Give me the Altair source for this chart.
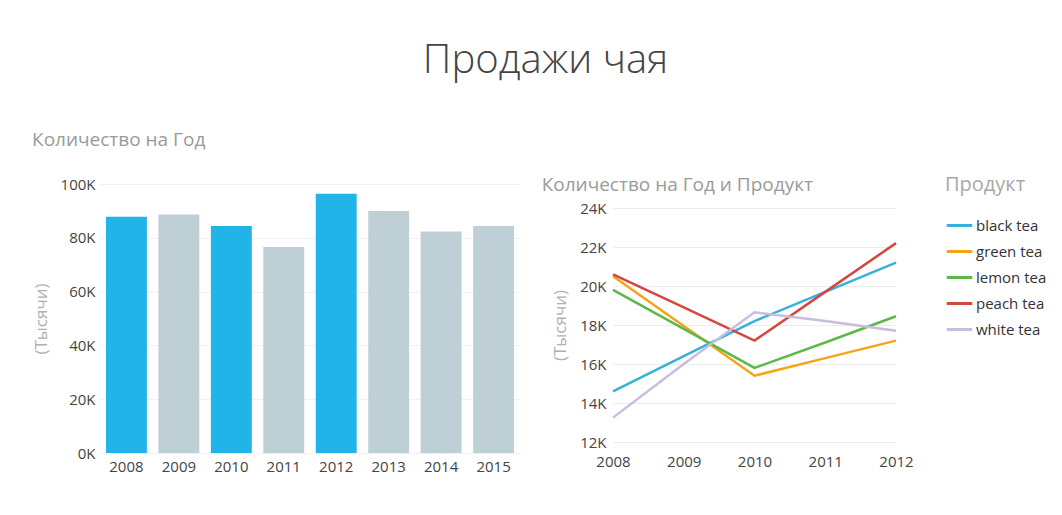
import altair as alt
import pandas as pd

# ---- data ----
years = ["2008", "2009", "2010", "2011", "2012", "2013", "2014", "2015"]
totals = [87800, 88700, 84400, 76600, 96400, 90000, 82300, 84400]
highlight = [True, False, True, False, True, False, False, False]

line_years = ["2008", "2009", "2010", "2011", "2012"]
products = ["black tea", "green tea", "lemon tea", "peach tea", "white tea"]
black_tea = [14600, 16400, 18200, 19700, 21200]
green_tea = [20500, 17950, 15400, 16300, 17200]
lemon_tea = [19800, 17800, 15800, 17100, 18450]
peach_tea = [20600, 18900, 17200, 19700, 22200]
white_tea = [13250, 16000, 18650, 18200, 17700]
product_colors = ["#35b1dc", "#f6a318", "#5cb948", "#d4473e", "#c9bcdf"]

BLUE = "#20b4e8"
GREY = "#bed0d5"
FONT = "Open Sans"

bar_df = pd.DataFrame({"year": years, "total": totals, "hl": highlight})
series = [black_tea, green_tea, lemon_tea, peach_tea, white_tea]
rows = []
for p, vals in zip(products, series):
    for y, v in zip(line_years, vals):
        rows.append({"year": y, "product": p, "value": v})
line_df = pd.DataFrame(rows)

k_expr = "format(datum.value / 1000, 'd') + 'K'"

bar = alt.Chart(bar_df).mark_bar().encode(
    x=alt.X("year:N", sort=years,
            scale=alt.Scale(paddingInner=0.22, paddingOuter=0.114),
            axis=alt.Axis(title=None, labelAngle=0, ticks=False, domain=False,
                          labelPadding=6, grid=False)),
    y=alt.Y("total:Q", scale=alt.Scale(domain=[0, 100000], nice=False),
            axis=alt.Axis(title="(Тысячи)", values=[0, 20000, 40000, 60000, 80000, 100000],
                          labelExpr=k_expr, ticks=False, domain=False, grid=True,
                          gridColor="#f1f1f1", labelPadding=5, titlePadding=10)),
    color=alt.condition("datum.hl", alt.value(BLUE), alt.value(GREY)),
).properties(
    width=420, height=269,
    title=alt.TitleParams("Количество на Год", anchor="start", frame="bounds",
                          fontSize=19, color="#9a9a9a", fontWeight="normal", offset=27, font=FONT),
)

line = alt.Chart(line_df).mark_line(strokeWidth=2.5).encode(
    x=alt.X("year:O", scale=alt.Scale(type="point", padding=0),
            axis=alt.Axis(title=None, labelAngle=0, ticks=False, domain=False,
                          labelPadding=10, grid=False)),
    y=alt.Y("value:Q", scale=alt.Scale(domain=[12000, 24000], nice=False, range=[258, 24]),
            axis=alt.Axis(title="(Тысячи)", values=[12000, 14000, 16000, 18000, 20000, 22000, 24000],
                          labelExpr=k_expr, ticks=False, domain=False, grid=True,
                          gridColor="#ececec", labelPadding=7, titlePadding=10)),
    color=alt.Color("product:N", scale=alt.Scale(domain=products, range=product_colors),
                    legend=alt.Legend(title="Продукт", orient="none", legendX=332, legendY=-9,
                                      symbolType="stroke", symbolStrokeWidth=3, symbolSize=650,
                                      labelFontSize=15, labelColor="#333", titleFontSize=20,
                                      titleColor="#a8a8a8", titleFontWeight="normal",
                                      titlePadding=16, rowPadding=3, labelOffset=2,
                                      labelFont=FONT, titleFont=FONT)),
).properties(
    width=283, height=260,
    title=alt.TitleParams("Количество на Год и Продукт", anchor="start", frame="bounds",
                          fontSize=19, color="#9a9a9a", fontWeight="normal", offset=12, dx=-10, dy=32,
                          font=FONT),
)

right = alt.vconcat(line).resolve_scale(color="independent").resolve_legend(color="independent")

chart = alt.hconcat(bar, right, spacing=21).resolve_scale(color="independent").resolve_legend(color="independent").properties(
    title=alt.TitleParams("Продажи чая", fontSize=40, fontWeight=300, color="#444",
                          anchor="middle", offset=50, dx=6, font=FONT),
    padding={"left": 24, "top": 33, "right": 5, "bottom": 5},
    background="white",
).configure_view(stroke=None).configure_axis(
    labelFont=FONT, titleFont=FONT, labelFontSize=15, labelColor="#444",
    titleFontSize=17, titleColor="#b0b0b0", titleFontWeight="normal",
).configure_legend(labelFont=FONT, titleFont=FONT)

chart.save("out.html", embed_options={"renderer": "svg", "actions": False})
